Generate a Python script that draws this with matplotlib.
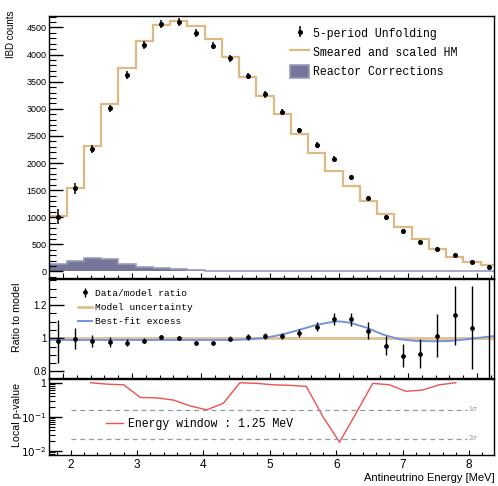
import numpy as np
import matplotlib
matplotlib.use("Agg")
import matplotlib.pyplot as plt
from matplotlib.ticker import MultipleLocator, FixedLocator, FixedFormatter, NullFormatter, LogLocator
from matplotlib.lines import Line2D

# ---- data ----
bin_edges = np.arange(1.8, 8.31, 0.25)           # 26 bins of 0.25 MeV
bin_centers = 0.5 * (bin_edges[:-1] + bin_edges[1:])

unfolded = [1008, 1531, 2256, 3006, 3627, 4175, 4562, 4605, 4396, 4162,
            3929, 3600, 3265, 2933, 2601, 2336, 2078, 1734, 1353, 996,
            738, 541, 412, 307, 184, 86]
unfolded_err = [138, 105, 75, 70, 70, 70, 70, 70, 70, 65,
                62, 60, 58, 55, 52, 50, 48, 45, 42, 40,
                38, 35, 32, 30, 28, 26]
hm_model = [1027, 1531, 2305, 3080, 3744, 4248, 4543, 4623, 4531, 4285,
            3947, 3578, 3240, 2896, 2539, 2189, 1857, 1568, 1291, 1057,
            812, 590, 412, 270, 172, 117]
reactor_corr = [130, 192, 248, 232, 140, 90, 66, 38, 26, 11,
                8, 6, 5, 4, 3, 3, 2, 2, 2, 1,
                1, 1, 1, 1, 0, 0]

ratio = [0.982, 0.998, 0.982, 0.976, 0.974, 0.984, 1.008, 1.000, 0.972, 0.974,
         0.998, 1.008, 1.014, 1.014, 1.030, 1.070, 1.116, 1.114, 1.046, 0.956,
         0.894, 0.908, 1.016, 1.138, 1.064, 0.700]
ratio_err = [0.130, 0.063, 0.035, 0.030, 0.020, 0.015, 0.012, 0.012, 0.012, 0.012,
             0.014, 0.016, 0.018, 0.020, 0.025, 0.028, 0.035, 0.040, 0.050, 0.055,
             0.070, 0.090, 0.130, 0.180, 0.250, 0.800]
model_unc = 0.01

excess_x = [1.80, 4.47, 4.71, 4.95, 5.19, 5.43, 5.68, 5.92, 6.01, 6.16,
            6.40, 6.64, 6.88, 7.12, 7.36, 7.61, 7.85, 8.09, 8.30]
excess_y = [0.990, 0.990, 0.994, 1.004, 1.024, 1.052, 1.082, 1.100, 1.102, 1.094,
            1.064, 1.022, 0.994, 0.984, 0.982, 0.984, 0.994, 1.006, 1.016]

pval_x = [2.30, 2.55, 2.80, 3.05, 3.30, 3.55, 3.80, 4.05, 4.30, 4.55,
          4.80, 5.05, 5.30, 5.55, 5.80, 6.05, 6.30, 6.55, 6.80, 7.05,
          7.30, 7.55, 7.80]
pval = [1.00, 0.91, 0.87, 0.37, 0.36, 0.31, 0.21, 0.16, 0.25, 1.00,
        0.96, 0.87, 0.84, 0.78, 0.10, 0.018, 0.13, 0.96, 0.87, 0.56,
        0.61, 0.87, 1.00]
sigma_levels = [0.159, 0.0228]
sigma_labels = [r"1$\sigma$", r"2$\sigma$"]

# ---- style ----
tan = "#dfb985"
slate = "#76769a"
blue = "#7394dc"
red = "#f05050"
grey = "#8c9cac"
mono = "Liberation Mono"
plt.rcParams["font.family"] = ["Liberation Sans", "DejaVu Sans"]
plt.rcParams["axes.linewidth"] = 1.0

fig = plt.figure(figsize=(4.98, 4.86), dpi=100)
ax1 = fig.add_axes([0.099, 0.428, 0.8936, 0.539])
ax2 = fig.add_axes([0.099, 0.2222, 0.8936, 0.2043])
ax3 = fig.add_axes([0.099, 0.0638, 0.8936, 0.1557])

def root_ticks(ax, ymaj, ymin_len):
    ax.tick_params(axis="both", which="both", direction="in", top=False, right=False)
    ax.tick_params(axis="y", which="major", length=ymaj, width=1, labelsize=6.5, pad=2)
    ax.tick_params(axis="y", which="minor", length=ymin_len, width=0.8)
    ax.tick_params(axis="x", which="major", length=3.5, width=0.8)
    ax.tick_params(axis="x", which="minor", length=2, width=0.8)

# ---- main panel ----
ax1.stairs(reactor_corr, bin_edges, fill=True, facecolor=slate, edgecolor="#9a9abd",
           lw=1.2, label="Reactor Corrections")
ax1.stairs(hm_model, bin_edges, baseline=None, color=tan, lw=1.6,
           label="Smeared and scaled HM")
ax1.errorbar(bin_centers, unfolded, yerr=unfolded_err, fmt="o", ms=2.6, color="black",
             elinewidth=1.1, capsize=0, label="5-period Unfolding")
ax1.set_xlim(1.8, 8.25)
ax1.set_ylim(-120, 4710)
ax1.xaxis.set_major_locator(MultipleLocator(1))
ax1.xaxis.set_minor_locator(MultipleLocator(0.2))
ax1.yaxis.set_major_locator(MultipleLocator(500))
ax1.yaxis.set_minor_locator(MultipleLocator(100))
ax1.tick_params(labelbottom=False)
root_ticks(ax1, 10, 5)
ax1.set_ylabel("IBD counts", fontsize=7, loc="top")
ax1.yaxis.set_label_coords(-0.075, 1.023)

h, l = ax1.get_legend_handles_labels()
order = [2, 1, 0]
ax1.legend([h[i] for i in order], [l[i] for i in order], loc="upper left",
           bbox_to_anchor=(0.541, 0.96), frameon=False, prop={"family": mono, "size": 8.3},
           handlelength=1.65, handleheight=1.3, handletextpad=0.32, labelspacing=0.54,
           borderpad=0, borderaxespad=0)

# ---- ratio panel ----
ax2.axhspan(1 - model_unc, 1 + model_unc, color=tan, alpha=0.85, lw=0)
ax2.plot(excess_x, excess_y, color=blue, lw=1.4, label="Best-fit excess")
ax2.errorbar(bin_centers, ratio, yerr=ratio_err, fmt="o", ms=2.4, color="black",
             elinewidth=1.0, capsize=0, label="Data/model ratio")
ax2.set_xlim(1.8, 8.25)
ax2.set_ylim(0.76, 1.36)
ax2.xaxis.set_major_locator(MultipleLocator(1))
ax2.xaxis.set_minor_locator(MultipleLocator(0.2))
ax2.yaxis.set_major_locator(FixedLocator([0.8, 1.0, 1.2]))
ax2.yaxis.set_major_formatter(FixedFormatter(["0.8", "1", "1.2"]))
ax2.yaxis.set_minor_locator(MultipleLocator(0.05))
ax2.tick_params(labelbottom=False)
root_ticks(ax2, 11, 5)
ax2.tick_params(axis="y", labelsize=7)
ax2.set_ylabel("Ratio to model", fontsize=7.7)
ax2.yaxis.set_label_coords(-0.062, 0.614)

h, l = ax2.get_legend_handles_labels()
unc_handle = Line2D([], [], color=tan, lw=1.8)
ax2.legend([h[1], unc_handle, h[0]], ["Data/model ratio", "Model uncertainty", "Best-fit excess"],
           loc="upper left", bbox_to_anchor=(0.0645, 0.90), frameon=False,
           prop={"family": mono, "size": 6.8}, handlelength=1.5, handletextpad=0.3,
           labelspacing=0.55, borderpad=0, borderaxespad=0)

# ---- p-value panel ----
ax3.plot(pval_x, pval, color=red, lw=1.0, label="Energy window : 1.25 MeV")
for lev, lab in zip(sigma_levels, sigma_labels):
    ax3.hlines(lev, 2.0, 7.97, color=grey, lw=0.9, ls=(0, (4, 3)))
    ax3.text(8.07, lev * 1.08, lab, color=grey, fontsize=5, ha="center", va="center")
ax3.set_yscale("log")
ax3.set_xlim(1.68, 8.38)
ax3.set_ylim(0.0076, 1.26)
ax3.xaxis.set_major_locator(MultipleLocator(1))
ax3.xaxis.set_minor_locator(MultipleLocator(0.2))
ax3.yaxis.set_major_locator(FixedLocator([0.01, 0.1, 1]))
ax3.yaxis.set_major_formatter(FixedFormatter([r"$10^{-2}$", r"$10^{-1}$", "1"]))
ax3.yaxis.set_minor_locator(LogLocator(subs=np.arange(2, 10)))
ax3.yaxis.set_minor_formatter(NullFormatter())
root_ticks(ax3, 9, 4)
ax3.tick_params(axis="y", labelsize=7.5)
ax3.tick_params(axis="x", labelsize=8.5, pad=3)
ax3.set_ylabel("Local p-value", fontsize=7.7)
ax3.yaxis.set_label_coords(-0.062, 0.53)
ax3.set_xlabel("Antineutrino Energy [MeV]", fontsize=8, loc="right")
ax3.xaxis.set_label_coords(1.0, -0.24)
ax3.legend(loc="center left", bbox_to_anchor=(0.127, 0.41), frameon=False,
           prop={"family": mono, "size": 8.3}, handlelength=1.5, handletextpad=0.43,
           borderpad=0, borderaxespad=0)

fig.savefig("out.png", dpi=100)
